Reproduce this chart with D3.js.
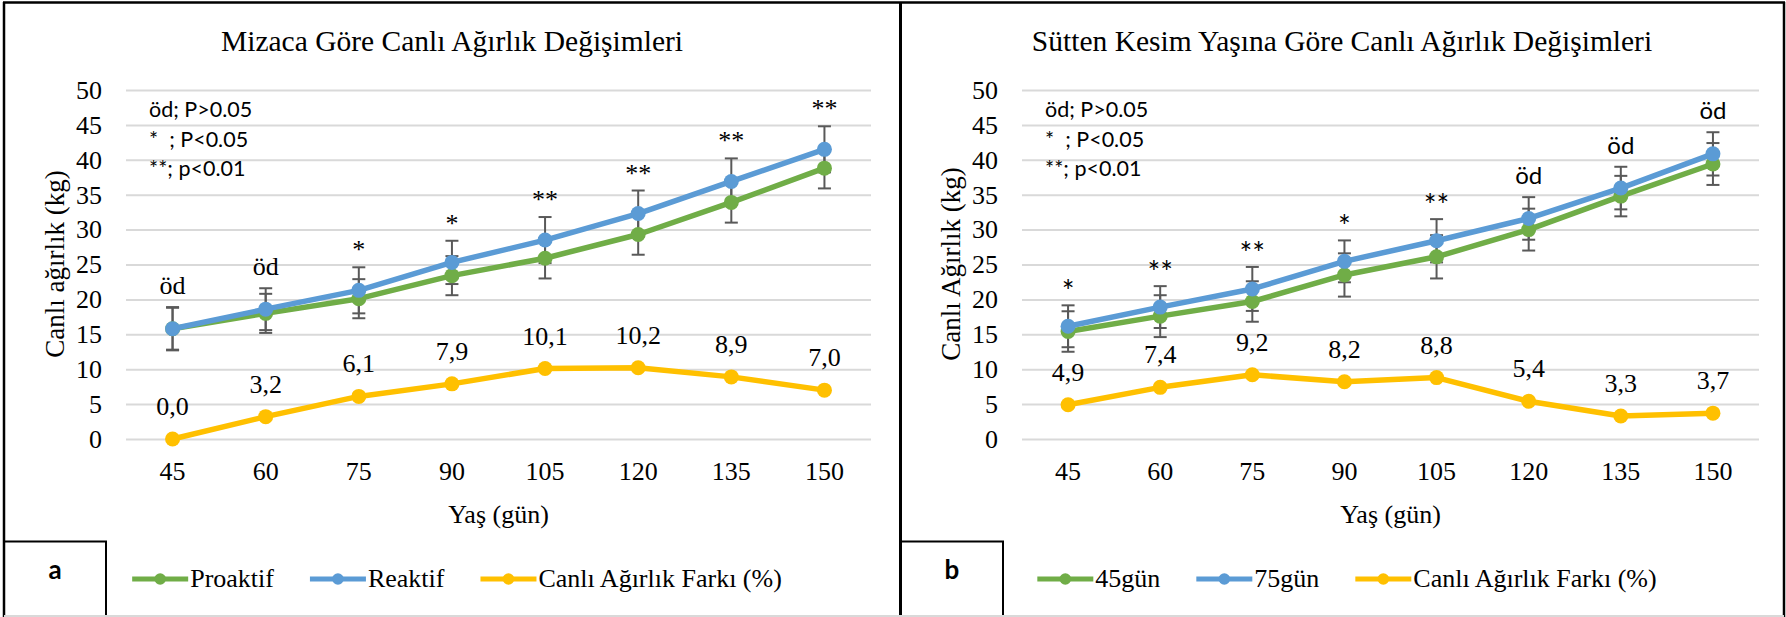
<!DOCTYPE html>
<html>
<head>
<meta charset="utf-8">
<script src="https://cdn.jsdelivr.net/npm/d3@7/dist/d3.min.js"></script>
<style>
  html, body { margin: 0; padding: 0; background: #fff; }
  svg { display: block; }
  text { white-space: pre; }
</style>
</head>
<body>
<svg id="chart" width="1786" height="617"></svg>
<script>
// Age categories (days) and y-axis ticks shared by both panels
const days = ["45", "60", "75", "90", "105", "120", "135", "150"];
const yTicks = [0, 5, 10, 15, 20, 25, 30, 35, 40, 45, 50];

// Panel a: live weight by temperament (kg) with standard errors
const proaktif    = [15.8, 18.0, 20.1, 23.4, 25.9, 29.3, 33.9, 38.8];
const proaktifErr = [3.0, 2.8, 2.8, 2.8, 2.9, 2.9, 2.9, 2.9];
const reaktif     = [15.8, 18.6, 21.3, 25.3, 28.5, 32.3, 36.9, 41.5];
const reaktifErr  = [3.1, 3.0, 3.3, 3.1, 3.3, 3.3, 3.3, 3.3];
const farkA       = [0.0, 3.2, 6.1, 7.9, 10.1, 10.2, 8.9, 7.0];
const sigA        = ["öd", "öd", "*", "*", "**", "**", "**", "**"];

// Panel b: live weight by weaning age (kg) with standard errors
const gun45    = [15.4, 17.6, 19.7, 23.5, 26.1, 30.0, 34.8, 39.4];
const gun45Err = [2.9, 3.0, 2.9, 3.1, 3.1, 3.0, 2.9, 3.0];
const gun75    = [16.15, 18.9, 21.5, 25.45, 28.4, 31.6, 35.95, 40.85];
const gun75Err = [3.0, 3.0, 3.15, 3.0, 3.1, 3.05, 3.05, 3.1];
const farkB    = [4.9, 7.4, 9.2, 8.2, 8.8, 5.4, 3.3, 3.7];
const sigB     = ["*", "**", "**", "*", "**", "öd", "öd", "öd"];

const statLines = ["öd; P>0.05", "*  ; P<0.05", "**; p<0.01"];

const GREEN = "#70AD47", BLUE = "#5B9BD5", GOLD = "#FFC000", ERR = "#595959", GRID = "#D9D9D9";
const SERIF = "'Liberation Serif', 'Times New Roman', serif";
const SANS = "Lato, 'Open Sans', sans-serif";

const svg = d3.select("#chart");
svg.append("rect").attr("width", 1786).attr("height", 617).attr("fill", "#fff");

const fmtComma = v => d3.format(".1f")(v).replace(".", ",");

function drawPanel(p) {
  const g = svg.append("g");
  const x = d3.scaleBand().domain(days).range([p.plotLeft, p.plotRight]).paddingInner(0).paddingOuter(0);
  const y = d3.scaleLinear().domain([0, 50]).range([439, 90]);
  const cx = d => x(d) + x.bandwidth() / 2;

  // gridlines
  const grid = g.append("g").attr("transform", `translate(${p.plotLeft},0)`)
    .call(d3.axisLeft(y).tickValues(yTicks).tickSize(-(p.plotRight - p.plotLeft)).tickFormat(""));
  grid.select(".domain").remove();
  grid.selectAll("line").attr("stroke", GRID).attr("stroke-width", 2);

  // y tick labels
  const ya = g.append("g").attr("transform", `translate(${p.plotLeft},0)`)
    .call(d3.axisLeft(y).tickValues(yTicks).tickSize(0).tickPadding(24))
    .attr("font-family", SERIF);
  ya.select(".domain").remove();
  ya.selectAll("text").style("font-family", SERIF).style("font-size", "26px").attr("fill", "#000");

  // x tick labels
  const xa = g.append("g").attr("transform", "translate(0,439)")
    .call(d3.axisBottom(x).tickSize(0).tickPadding(23))
    .attr("font-family", SERIF);
  xa.select(".domain").remove();
  xa.selectAll("text").style("font-family", SERIF).style("font-size", "26px").attr("fill", "#000");

  // titles
  g.append("text").attr("x", p.center).attr("y", 51).attr("text-anchor", "middle")
    .style("font-family", SERIF).style("font-size", "29.5px").text(p.title);
  g.append("text").attr("transform", `translate(${p.plotLeft - 62},264) rotate(-90)`)
    .attr("text-anchor", "middle").style("font-family", SERIF).style("font-size", "27px").text(p.yTitle);
  g.append("text").attr("x", (p.plotLeft + p.plotRight) / 2).attr("y", 523).attr("text-anchor", "middle")
    .style("font-family", SERIF).style("font-size", "26px").text("Yaş (gün)");

  // significance key
  g.append("g").selectAll("text").data(statLines).join("text")
    .attr("x", p.plotLeft + 23).attr("y", (d, i) => 117 + i * 29.5)
    .style("font-family", SANS).style("font-size", "21.5px").text(d => d);

  // error bars
  [p.s1, p.s2].forEach(s => {
    const eg = g.append("g");
    days.forEach((d, i) => {
      const v = s.values[i], e = s.err[i];
      const xc = cx(d);
      eg.append("line").attr("x1", xc).attr("x2", xc).attr("y1", y(v - e)).attr("y2", y(v + e))
        .attr("stroke", ERR).attr("stroke-width", 2);
      [v - e, v + e].forEach(t => eg.append("line").attr("x1", xc - 6.5).attr("x2", xc + 6.5)
        .attr("y1", y(t)).attr("y2", y(t)).attr("stroke", ERR).attr("stroke-width", 2));
    });
  });

  // lines and markers
  const all = [p.s1, p.s2, { values: p.fark, color: GOLD }];
  const line = d3.line().x((v, i) => cx(days[i])).y(v => y(v));
  all.forEach(s => {
    g.append("path").datum(s.values).attr("d", line).attr("fill", "none")
      .attr("stroke", s.color).attr("stroke-width", 5.5).attr("stroke-linejoin", "round");
    g.append("g").selectAll("circle").data(s.values).join("circle")
      .attr("cx", (v, i) => cx(days[i])).attr("cy", v => y(v)).attr("r", 7.5).attr("fill", s.color);
  });

  // difference labels
  g.append("g").selectAll("text").data(p.fark).join("text")
    .attr("x", (v, i) => cx(days[i])).attr("y", v => y(v) - 24).attr("text-anchor", "middle")
    .style("font-family", SERIF).style("font-size", "26px").text(v => fmtComma(v));

  // significance labels above the higher error bar
  g.append("g").selectAll("text").data(p.sig).join("text")
    .attr("x", (s, i) => cx(days[i]))
    .attr("y", (s, i) => {
      const top = Math.max(p.s1.values[i] + p.s1.err[i], p.s2.values[i] + p.s2.err[i]);
      return y(top) - (s === "öd" ? 13 : p.starGap);
    })
    .attr("text-anchor", "middle").style("font-family", p.sigFont)
    .style("font-size", s => (s === "öd" ? p.sigSize : p.starSize) + "px")
    .text(s => s);

  // panel letter box
  g.append("rect").attr("x", p.x0).attr("y", 541.5).attr("width", p.boxW).attr("height", 80)
    .attr("fill", "none").attr("stroke", "#000").attr("stroke-width", 2);
  g.append("text").attr("x", p.x0 + p.boxW / 2).attr("y", 579).attr("text-anchor", "middle")
    .style("font-family", SANS).style("font-weight", "bold").style("font-size", "26px").text(p.letter);

  // legend
  const lg = g.append("g");
  const entries = [p.s1, p.s2, { name: "Canlı Ağırlık Farkı (%)", color: GOLD }];
  let cur = 0;
  entries.forEach(s => {
    const eg = lg.append("g").attr("transform", `translate(${cur},0)`);
    eg.append("line").attr("x1", 0).attr("x2", 56).attr("y1", 579).attr("y2", 579)
      .attr("stroke", s.color).attr("stroke-width", 5);
    eg.append("circle").attr("cx", 28).attr("cy", 579).attr("r", 5.8).attr("fill", s.color);
    const t = eg.append("text").attr("x", 58).attr("y", 587)
      .style("font-family", SERIF).style("font-size", "26px").text(s.name);
    cur += 58 + t.node().getComputedTextLength() + 36;
  });
  const total = cur - 36;
  lg.attr("transform", `translate(${p.center + 5 - total / 2},0)`);
}

drawPanel({
  x0: 4, center: 452, boxW: 102, plotLeft: 126, plotRight: 871,
  title: "Mizaca Göre Canlı Ağırlık Değişimleri", yTitle: "Canlı ağırlık (kg)",
  s1: { name: "Proaktif", values: proaktif, err: proaktifErr, color: GREEN },
  s2: { name: "Reaktif", values: reaktif, err: reaktifErr, color: BLUE },
  fark: farkA, sig: sigA, sigFont: SERIF, sigSize: 26, starSize: 26, starGap: 9, letter: "a"
});

drawPanel({
  x0: 901, center: 1342, boxW: 102, plotLeft: 1022, plotRight: 1759,
  title: "Sütten Kesim Yaşına Göre Canlı Ağırlık Değişimleri", yTitle: "Canlı Ağırlık (kg)",
  s1: { name: "45gün", values: gun45, err: gun45Err, color: GREEN },
  s2: { name: "75gün", values: gun75, err: gun75Err, color: BLUE },
  fark: farkB, sig: sigB, sigFont: SANS, sigSize: 24, starSize: 30, starGap: 3, letter: "b"
});

// frame around both panels
const frame = svg.append("g").attr("stroke", "#000").attr("fill", "none");
frame.append("line").attr("x1", 3).attr("x2", 1785).attr("y1", 2.5).attr("y2", 2.5).attr("stroke-width", 2.5);
frame.append("line").attr("x1", 4).attr("x2", 4).attr("y1", 2).attr("y2", 617).attr("stroke-width", 2.5);
frame.append("line").attr("x1", 1784).attr("x2", 1784).attr("y1", 2).attr("y2", 617).attr("stroke-width", 2.5);
frame.append("line").attr("x1", 900.5).attr("x2", 900.5).attr("y1", 2).attr("y2", 617).attr("stroke-width", 3);
svg.append("line").attr("x1", 4).attr("x2", 1784).attr("y1", 616).attr("y2", 616)
  .attr("stroke", GRID).attr("stroke-width", 2);
</script>
</body>
</html>
